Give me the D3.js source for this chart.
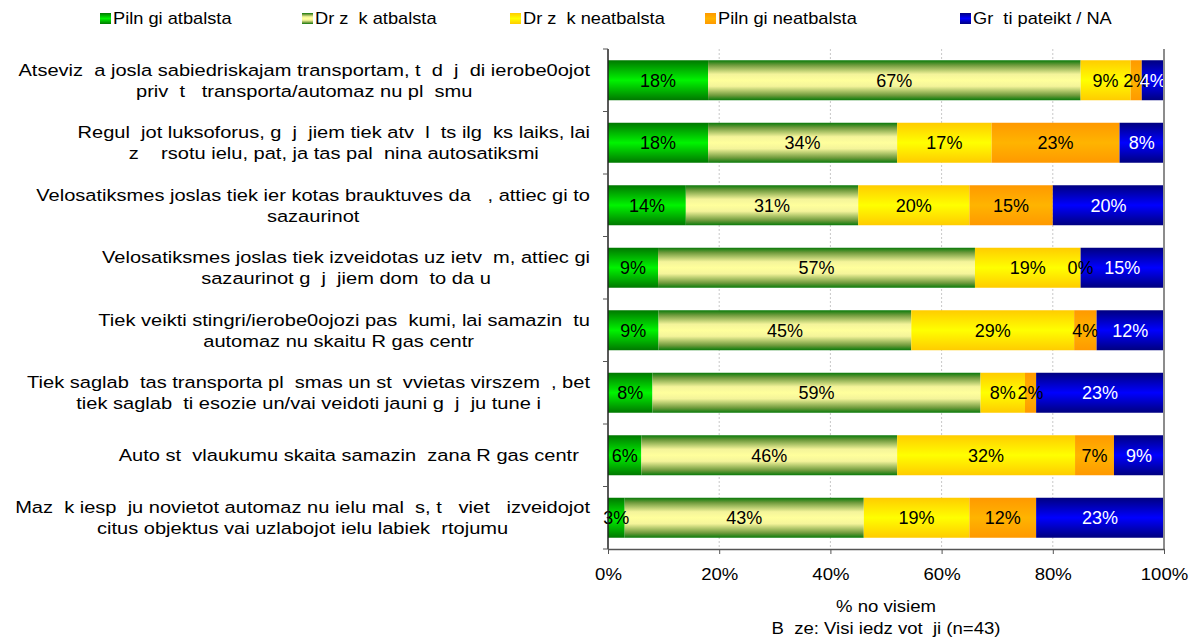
<!DOCTYPE html>
<html>
<head>
<meta charset="utf-8">
<script src="https://cdn.jsdelivr.net/npm/d3@7"></script>
<style>
  html, body { margin: 0; padding: 0; background: #fff; }
  svg { display: block; font-family: "Liberation Sans", Arial, sans-serif; }
  text { white-space: pre; }
</style>
</head>
<body>
<svg id="chart" width="1189" height="638"></svg>
<script>
// Statements (each split into its display lines)
const categories = [
  ["Atseviz  a josla sabiedriskajam transportam, t  d  j  di ierobe0ojot", "priv  t   transporta/automaz nu pl  smu"],
  ["Regul  jot luksoforus, g  j  jiem tiek atv  l  ts ilg  ks laiks, lai", "z    rsotu ielu, pat, ja tas pal  nina autosatiksmi"],
  ["Velosatiksmes joslas tiek ier kotas brauktuves da   , attiec gi to", "sazaurinot"],
  ["Velosatiksmes joslas tiek izveidotas uz ietv  m, attiec gi", "sazaurinot g  j  jiem dom  to da u"],
  ["Tiek veikti stingri/ierobe0ojozi pas  kumi, lai samazin  tu", "automaz nu skaitu R gas centr  "],
  ["Tiek saglab  tas transporta pl  smas un st  vvietas virszem  , bet", "tiek saglab  ti esozie un/vai veidoti jauni g  j  ju tune i"],
  ["Auto st  vlaukumu skaita samazin  zana R gas centr  "],
  ["Maz  k iesp  ju novietot automaz nu ielu mal  s, t   viet   izveidojot", "citus objektus vai uzlabojot ielu labiek  rtojumu"]
];

const seriesNames = ["Piln gi atbalsta", "Dr z  k atbalsta", "Dr z  k neatbalsta", "Piln gi neatbalsta", "Gr  ti pateikt / NA"];

// Percent of respondents per statement, one array per answer
const fullySupport    = [18, 18, 14,  9,  9,  8,  6,  3];
const ratherSupport   = [67, 34, 31, 57, 45, 59, 46, 43];
const ratherOppose    = [ 9, 17, 20, 19, 29,  8, 32, 19];
const fullyOppose     = [ 2, 23, 15,  0,  4,  2,  7, 12];
const hardToSay       = [ 4,  8, 20, 15, 12, 23,  9, 23];

const xTicks = [0, 0.2, 0.4, 0.6, 0.8, 1];
const axisTitle = "% no visiem";
const baseNote = "B  ze: Visi iedz vot  ji (n=43)";

const seriesValues = [fullySupport, ratherSupport, ratherOppose, fullyOppose, hardToSay];

// Vertical gradient stops for each answer (edge, middle)
const gradientStops = [
  [[0, "#007800"], [0.5, "#00f400"], [1, "#007800"]],
  [[0, "#0a7a0a"], [0.12, "#6e9a3c"], [0.35, "#f4f49a"], [0.5, "#ffff9c"], [0.65, "#f4f49a"], [0.88, "#6e9a3c"], [1, "#0a7a0a"]],
  [[0, "#ffcc00"], [0.5, "#ffff00"], [1, "#ffcc00"]],
  [[0, "#ff9900"], [0.5, "#ffb400"], [1, "#ff9900"]],
  [[0, "#000080"], [0.5, "#0000ff"], [1, "#000080"]]
];
const labelColors = ["#000", "#000", "#000", "#000", "#fff"];

// Text is drawn slightly widened horizontally
const WIDE = 1.16;

const svg = d3.select("#chart");
const defs = svg.append("defs");
gradientStops.forEach((stops, i) => {
  const g = defs.append("linearGradient")
    .attr("id", "grad" + i)
    .attr("x1", 0).attr("y1", 0).attr("x2", 0).attr("y2", 1);
  stops.forEach(([o, c]) => g.append("stop").attr("offset", o).attr("stop-color", c));
});

const plot = { left: 608, right: 1164, top: 49, bottom: 549 };

const x = d3.scaleLinear().domain([0, 1]).range([plot.left, plot.right]);
const y = d3.scaleBand()
  .domain(d3.range(categories.length))
  .range([plot.top, plot.bottom])
  .paddingInner(0.36)
  .paddingOuter(0.18);

// Helper: widened text placed at (px, py)
function wideText(parent, px, py, str, size, anchor, sx) {
  return parent.append("text")
    .attr("xml:space", "preserve")
    .attr("transform", `translate(${px},${py}) scale(${sx},1)`)
    .attr("text-anchor", anchor)
    .attr("font-size", size)
    .text(str);
}

// Gridlines
svg.append("g")
  .selectAll("line")
  .data(xTicks.slice(1, -1))
  .join("line")
  .attr("x1", d => x(d)).attr("x2", d => x(d))
  .attr("y1", plot.top).attr("y2", plot.bottom)
  .attr("stroke", "#c8c8c8")
  .attr("stroke-dasharray", "2,2")
  .attr("stroke-width", 1);

// Stack the answers (normalised to 100% per statement)
const rows = categories.map((c, i) => {
  const vals = seriesValues.map(s => s[i]);
  const total = d3.sum(vals);
  let acc = 0;
  return vals.map((v, k) => {
    const seg = { row: i, series: k, value: v, x0: acc / total, x1: (acc + v) / total };
    acc += v;
    return seg;
  });
});
const segments = rows.flat();

svg.append("g")
  .selectAll("rect")
  .data(segments)
  .join("rect")
  .attr("x", d => x(d.x0))
  .attr("y", d => y(d.row))
  .attr("width", d => x(d.x1) - x(d.x0))
  .attr("height", y.bandwidth())
  .attr("fill", d => `url(#grad${d.series})`);

svg.append("g")
  .selectAll("text")
  .data(segments)
  .join("text")
  .attr("x", d => (x(d.x0) + x(d.x1)) / 2)
  .attr("y", d => y(d.row) + y.bandwidth() / 2 + 6.5)
  .attr("text-anchor", "middle")
  .attr("font-size", 18)
  .attr("fill", d => labelColors[d.series])
  .text(d => d.value + "%");

// Right border of the plot area
svg.append("line")
  .attr("x1", plot.right).attr("x2", plot.right)
  .attr("y1", plot.top).attr("y2", plot.bottom)
  .attr("stroke", "#8c8c8c").attr("stroke-width", 2);

// Category axis
const yAxisG = svg.append("g");
yAxisG.append("line")
  .attr("x1", plot.left).attr("x2", plot.left)
  .attr("y1", plot.top).attr("y2", plot.bottom)
  .attr("stroke", "#222").attr("stroke-width", 1.5);
const step = y.step();
yAxisG.selectAll("line.tick")
  .data(d3.range(categories.length + 1))
  .join("line")
  .attr("class", "tick")
  .attr("x1", plot.left - 5).attr("x2", plot.left)
  .attr("y1", d => plot.top + d * step).attr("y2", d => plot.top + d * step)
  .attr("stroke", "#555");

// Category labels: centred lines, right edge of the widest line at 590
const labelG = svg.append("g").attr("fill", "#000");
const catSize = 17, catWide = 1.18, lineH = 21;
categories.forEach((lines, i) => {
  const cy = y(i) + y.bandwidth() / 2;
  const g = labelG.append("g");
  const texts = lines.map((ln, j) => wideText(g, 0,
    cy + (j - (lines.length - 1) / 2) * lineH + 6, ln, catSize, "middle", catWide));
  const maxW = d3.max(texts, t => t.node().getComputedTextLength()) * catWide;
  const cx = 590 - maxW / 2;
  texts.forEach((t, j) => t.attr("transform",
    `translate(${cx},${cy + (j - (lines.length - 1) / 2) * lineH + 6}) scale(${catWide},1)`));
});

// Value axis
const xAxis = d3.axisBottom(x)
  .tickValues(xTicks)
  .tickFormat(() => "")
  .tickSize(5)
  .tickSizeOuter(0);
const xAxisG = svg.append("g")
  .attr("transform", `translate(0,${plot.bottom})`)
  .call(xAxis);
xAxisG.select(".domain").attr("stroke", "#555").attr("stroke-width", 1.5);
xAxisG.selectAll(".tick line").attr("stroke", "#555");
const pct = d3.format(".0%");
xAxisG.selectAll(".tick").each(function(d) {
  wideText(d3.select(this), 0, 31, pct(d), 16, "middle", WIDE)
    .attr("fill", "#000")
    .attr("font-family", "'Liberation Sans', Arial, sans-serif");
});

const midX = (plot.left + plot.right) / 2;
wideText(svg, midX, 612, axisTitle, 16, "middle", WIDE);
wideText(svg, midX, 634, baseNote, 16, "middle", WIDE);

// Legend
const legendX = [100, 302, 510, 705, 960];
const legend = svg.append("g");
seriesNames.forEach((name, i) => {
  legend.append("rect")
    .attr("x", legendX[i]).attr("y", 13)
    .attr("width", 11).attr("height", 11)
    .attr("fill", `url(#grad${i})`);
  wideText(legend, legendX[i] + 13, 24, name, 16, "start", 1.14);
});
</script>
</body>
</html>
